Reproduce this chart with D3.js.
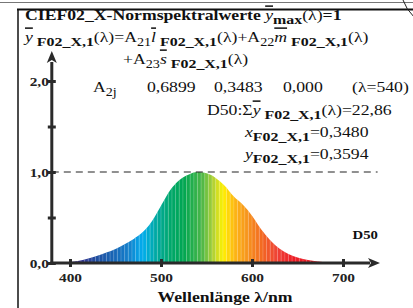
<!DOCTYPE html>
<html>
<head>
<meta charset="utf-8">
<script src="https://cdn.jsdelivr.net/npm/d3@7"></script>
<style>
  body { margin: 0; background: #fff; }
  svg { display: block; font-family: "Liberation Serif", "Times New Roman", serif; }
</style>
</head>
<body>
<svg id="chart" width="413" height="308"></svg>
<script>
// wavelength grid and y-bar values
const lambdas = [380, 390, 400, 410, 420, 430, 440, 450, 460, 470, 480, 490, 500, 510, 520, 530, 540, 550,
  560, 570, 580, 590, 600, 610, 620, 630, 640, 650, 660, 670, 680, 690, 700, 710, 720];
const yBar = [0.0, 0.003, 0.01, 0.025, 0.05, 0.08, 0.115, 0.155, 0.205, 0.265, 0.34, 0.46, 0.63, 0.80, 0.91,
  0.97, 1.0, 0.985, 0.935, 0.85, 0.73, 0.64, 0.52, 0.37, 0.25, 0.16, 0.10, 0.06, 0.035, 0.018, 0.009,
  0.004, 0.002, 0.001, 0.0];
const xTicks = [400, 500, 600, 700];
const yTicks = [0, 0.5, 1, 1.5, 2];
const yTickLabels = { 0: '0,0', 1: '1,0', 2: '2,0' };
const coefs = ['0,6899', '0,3483', '0,000'];

// spectral colours for the fill strips
const specStops = [380, 410, 430, 450, 465, 480, 495, 510, 525, 545, 558, 568, 580, 595, 612, 628, 645, 690, 740];
const specColors = ['#5a2a82', '#3a3490', '#1f4fa0', '#1768b8', '#1481cc', '#00aeef', '#00a9a0', '#00a86c',
  '#00a651', '#4cb748', '#b5d333', '#fff200', '#fdb913', '#f7941d', '#f26522', '#ef4136', '#ed1c24', '#e0202a', '#c41e3a'];

const svg = d3.select('#chart');
const SX = 1.18; // the lettering in the original is a bit wider than it is tall

const x = d3.scaleLinear().domain([380, 738]).range([51.8, 377.6]);
const y = d3.scaleLinear().domain([0, 2]).range([263, 81]);
const specColor = d3.scaleLinear().domain(specStops).range(specColors);

// frame
svg.append('line').attr('x1', 0).attr('x2', 413).attr('y1', 2.5).attr('y2', 2.5)
  .attr('stroke', '#777').attr('stroke-width', 1);
svg.append('line').attr('x1', 17).attr('x2', 413).attr('y1', 9.5).attr('y2', 9.5)
  .attr('stroke', '#111').attr('stroke-width', 2);
svg.append('line').attr('x1', 18).attr('x2', 18).attr('y1', 9).attr('y2', 308)
  .attr('stroke', '#111').attr('stroke-width', 1.5);
svg.append('path').attr('d', 'M403,0 Q406,9 414,17').attr('fill', 'none')
  .attr('stroke', '#222').attr('stroke-width', 1);

// spectrum area
const area = d3.area()
  .x((d, i) => x(lambdas[i]))
  .y0(y(0))
  .y1(d => y(d))
  .curve(d3.curveMonotoneX);

svg.append('clipPath').attr('id', 'spec').append('path').attr('d', area(yBar));

const strips = d3.range(380, 724, 4);
const g = svg.append('g').attr('clip-path', 'url(#spec)');
g.selectAll('rect').data(strips).enter().append('rect')
  .attr('x', d => x(d))
  .attr('y', y(1.05))
  .attr('width', d => x(d + 4) - x(d) + 0.2)
  .attr('height', y(0) - y(1.05))
  .attr('fill', d => specColor(d + 2));
g.selectAll('line').data(strips).enter().append('line')
  .attr('x1', d => x(d)).attr('x2', d => x(d))
  .attr('y1', y(1.05)).attr('y2', y(0))
  .attr('stroke', '#fff').attr('stroke-opacity', 0.35).attr('stroke-width', 0.6);

// dashed line at 1,0
svg.append('line')
  .attr('x1', x(380)).attr('x2', x(738))
  .attr('y1', y(1)).attr('y2', y(1))
  .attr('stroke', '#222').attr('stroke-width', 1.2).attr('stroke-dasharray', '7,5');

// axes
const axisColor = '#2a2a2a';
svg.append('line').attr('x1', x(380)).attr('x2', x(380)).attr('y1', y(0) + 1.5).attr('y2', 62)
  .attr('stroke', axisColor).attr('stroke-width', 3);
svg.append('path').attr('d', `M${x(380)},51 L${x(380) - 5},63 L${x(380)},60 L${x(380) + 5},63 Z`)
  .attr('fill', axisColor);
svg.append('line').attr('x1', x(380) - 1.5).attr('x2', 370).attr('y1', y(0)).attr('y2', y(0))
  .attr('stroke', axisColor).attr('stroke-width', 3);
svg.append('path').attr('d', `M380,${y(0)} L368,${y(0) - 5} L371,${y(0)} L368,${y(0) + 5} Z`)
  .attr('fill', axisColor);

const xAxis = svg.append('g').attr('transform', `translate(0,${y(0)})`)
  .call(d3.axisBottom(x).tickValues(xTicks).tickSize(0).tickPadding(0).tickFormat(d3.format('d')));
xAxis.select('.domain').remove();
xAxis.selectAll('.tick').append('line').attr('y1', -4).attr('y2', 4)
  .attr('stroke', axisColor).attr('stroke-width', 3);
xAxis.selectAll('text').attr('font-family', 'Liberation Serif').attr('font-size', 13)
  .attr('font-weight', 'bold').attr('fill', '#222')
  .attr('dy', null).attr('y', 0)
  .attr('transform', `translate(0,19) scale(${SX},1)`);

const yAxis = svg.append('g').attr('transform', `translate(${x(380)},0)`)
  .call(d3.axisLeft(y).tickValues(yTicks).tickSize(0).tickPadding(0).tickFormat(d => yTickLabels[d] || ''));
yAxis.select('.domain').remove();
yAxis.selectAll('.tick').append('line').attr('x1', -4).attr('x2', 4)
  .attr('stroke', axisColor).attr('stroke-width', 3);
yAxis.selectAll('text').attr('font-family', 'Liberation Serif').attr('font-size', 13)
  .attr('font-weight', 'bold').attr('fill', '#222')
  .attr('x', 0).attr('dy', null).attr('y', 0)
  .attr('transform', `translate(-3,4) scale(${SX},1)`);

// rich text helper: segments of [text, kind]
function rich(xp, yp, segs, size, anchor) {
  const t = svg.append('text')
    .attr('transform', `translate(${xp},${yp}) scale(${SX},1)`)
    .attr('font-size', size).attr('fill', '#111')
    .attr('text-anchor', anchor || 'start');
  let shift = 0;
  segs.forEach(([s, k]) => {
    const ts = t.append('tspan').text(s);
    let target = 0;
    if (k.includes('b')) ts.attr('font-weight', 'bold');
    if (k.includes('i')) ts.attr('font-style', 'italic');
    if (k.includes('o')) ts.style('text-decoration', 'overline');
    if (k.includes('s')) { target = 4; ts.attr('font-size', size * 0.8); }
    if (k.includes('S')) { target = 4; ts.attr('font-size', size * 0.9); }
    ts.attr('dy', target - shift);
    shift = target;
  });
  return t;
}

const sub = 'F02_X,1';
rich(25, 20, [['CIEF02_X-Normspektralwerte ', 'b'], ['y', 'io'], ['max', 'bS'], ['(λ)', ''], ['=1', 'b']], 15);
rich(25, 42, [['y', 'io'], [' ' + sub, 'bS'], ['(λ)=A', ''], ['21', 's'], ['l', 'io'], [' ' + sub, 'bS'],
  ['(λ)+A', ''], ['22', 's'], ['m', 'io'], [' ' + sub, 'bS'], ['(λ)', '']], 15);
rich(123, 64, [['+A', ''], ['23', 's'], ['s', 'io'], [' ' + sub, 'bS'], ['(λ)', '']], 15);

rich(93, 92, [['A', ''], ['2j', 's']], 15);
const coefX = [147, 214, 283];
coefs.forEach((c, i) => rich(coefX[i], 92, [[c, '']], 15));
rich(352, 92, [['(λ=540)', '']], 15);
rich(207, 115, [['D50:Σ', ''], ['y', 'io'], [' ' + sub, 'bS'], ['(λ)=22,86', '']], 15);
rich(245, 137, [['x', 'i'], [sub, 'bS'], ['=0,3480', '']], 15);
rich(245, 159, [['y', 'i'], [sub, 'bS'], ['=0,3594', '']], 15);

svg.append('text').attr('transform', `translate(378,239) scale(${SX},1)`).attr('text-anchor', 'end')
  .attr('font-size', 12.5).attr('font-weight', 'bold').attr('fill', '#111').text('D50');

svg.append('text').attr('transform', `translate(225,302) scale(${SX},1)`).attr('text-anchor', 'middle')
  .attr('font-size', 15).attr('font-weight', 'bold').attr('fill', '#111').text('Wellenlänge λ/nm');
</script>
</body>
</html>
